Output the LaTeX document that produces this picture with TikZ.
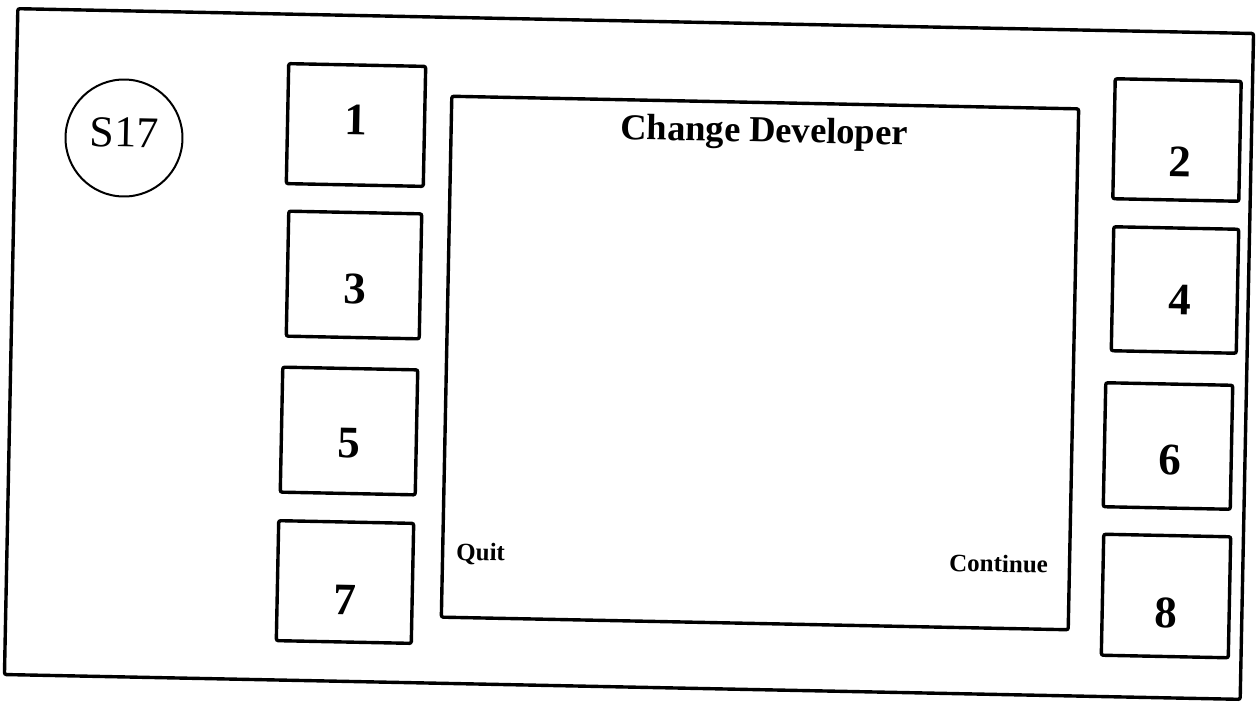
\documentclass[tikz,border=0pt]{standalone}
\usepackage{fontspec}
\setmainfont{Liberation Serif}
\begin{document}
\begin{tikzpicture}[x=1pt,y=-1pt,
  tilt/.style={rotate=-1.15},
  frame/.style={tilt,draw,line width=3.4pt,rounded corners=2pt,inner sep=0pt},
  keybox/.style={frame,minimum width=#1},
  keynum/.style={tilt,anchor=base,inner sep=0pt,font=\fontsize{45}{45}\selectfont\bfseries},
  softkey/.style={tilt,inner sep=0pt,font=\fontsize{25}{25}\selectfont\bfseries}]
\useasboundingbox (0,0) rectangle (1256,705);
% panel outline
\node[frame,minimum width=1236pt,minimum height=666pt] (panel) at (629,354) {};
% screen id badge
\node[tilt,draw,circle,line width=2pt,minimum size=117pt,inner sep=0pt] (badge) at (124,138) {};
\node[tilt,anchor=base,inner sep=0pt,font=\fontsize{44}{44}\selectfont] (badgetext) at (124,147) {S17};
% display area
\node[frame,minimum width=627pt,minimum height=521pt] (screen) at (760,363) {};
\node[tilt,anchor=base,inner sep=0pt,font=\fontsize{36.5}{36.5}\selectfont\bfseries] (title) at (764,142) {Change Developer};
\node[softkey,anchor=base west] (quit) at (456,560) {Quit};
\node[softkey,anchor=base east] (cont) at (1048,573) {Continue};
% left keys
\node[keybox=137pt,minimum height=120pt] (k1) at (356,125) {};
\node[keybox=133pt,minimum height=125pt] (k3) at (354,275) {};
\node[keybox=135pt,minimum height=125pt] (k5) at (349,431) {};
\node[keybox=135pt,minimum height=120pt] (k7) at (345,582) {};
% right keys
\node[keybox=126pt,minimum height=120pt] (k2) at (1177,140) {};
\node[keybox=125pt,minimum height=124pt] (k4) at (1175,290) {};
\node[keybox=127pt,minimum height=124pt] (k6) at (1168,446) {};
\node[keybox=127pt,minimum height=121pt] (k8) at (1166,596) {};
% key labels
\node[keynum] (n1) at (356,135) {1};
\node[keynum] (n3) at (355,304) {3};
\node[keynum] (n5) at (349,458) {5};
\node[keynum] (n7) at (345,615) {7};
\node[keynum] (n2) at (1180,177) {2};
\node[keynum] (n4) at (1180,315) {4};
\node[keynum] (n6) at (1170,475) {6};
\node[keynum] (n8) at (1166,628) {8};
\end{tikzpicture}
\end{document}
